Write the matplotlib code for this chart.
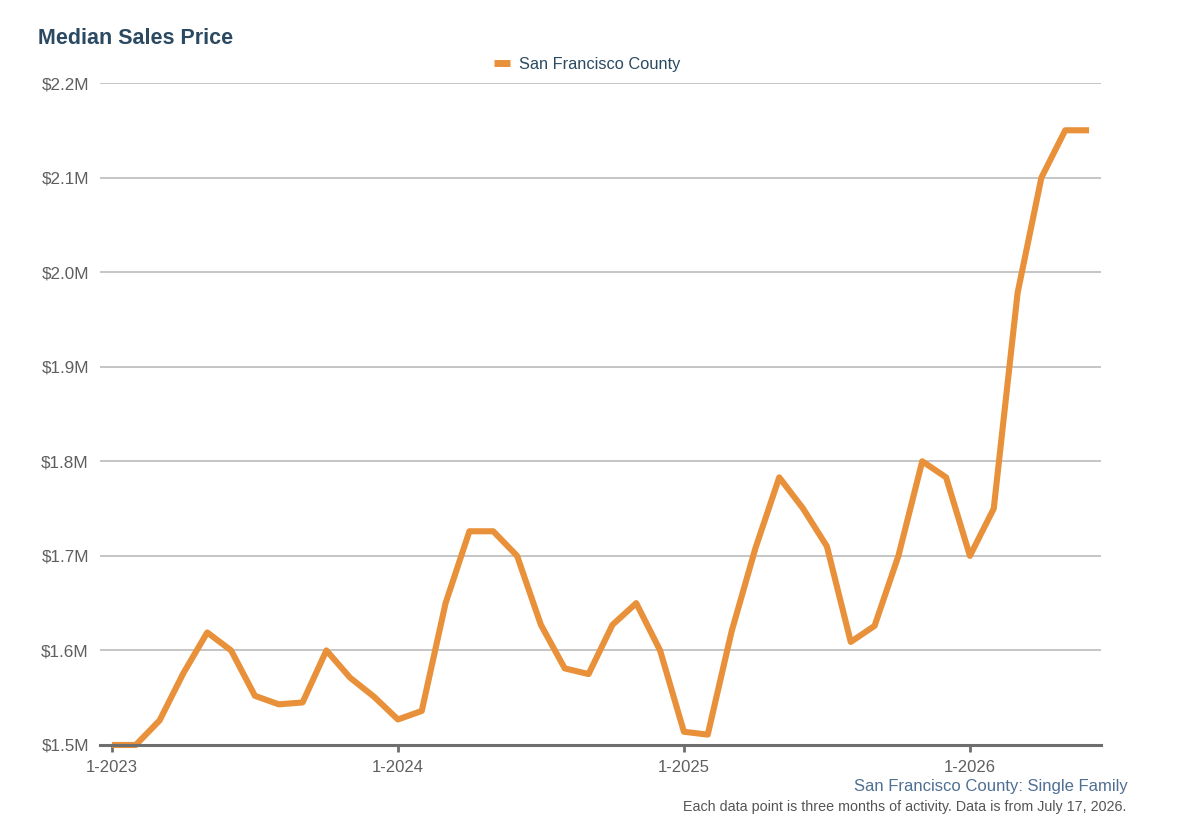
import matplotlib
matplotlib.use("Agg")
import matplotlib.pyplot as plt
from matplotlib.ticker import FuncFormatter

plt.rcParams['font.family'] = ['Liberation Sans', 'DejaVu Sans']

# Monthly data, Jan 2023 .. Jun 2026 (values in $M)
months = list(range(42))
prices = [1.500, 1.500, 1.526, 1.576, 1.619, 1.600, 1.552, 1.543, 1.545, 1.600,
          1.571, 1.551, 1.527, 1.536, 1.650, 1.726, 1.726, 1.700, 1.627, 1.581,
          1.575, 1.627, 1.650, 1.600, 1.514, 1.511, 1.620, 1.708, 1.783, 1.750,
          1.710, 1.609, 1.626, 1.700, 1.800, 1.783, 1.700, 1.750, 1.978, 2.100,
          2.150, 2.150]
year_ticks = [0, 12, 24, 36]
year_labels = ["1-2023", "1-2024", "1-2025", "1-2026"]
y_ticks = [1.5, 1.6, 1.7, 1.8, 1.9, 2.0, 2.1, 2.2]
series_name = "San Francisco County"

W, H = 1188, 824
fig = plt.figure(figsize=(W/100, H/100), dpi=100)
ax = fig.add_axes([100/W, 1-745/H, (1101-100)/W, (745-83)/H])

line_color = "#e8913a"
ax.plot(months, prices, color=line_color, lw=4.4, solid_joinstyle='round',
        solid_capstyle='butt', clip_on=False, zorder=3)

ax.set_xlim(-0.5, 41.5)
ax.set_ylim(1.5, 2.2)
ax.set_yticks(y_ticks)
ax.yaxis.set_major_formatter(FuncFormatter(lambda v, p: f"${v:.1f}M"))
ax.set_xticks(year_ticks)
ax.set_xticklabels(year_labels)

ax.grid(axis='y', color='#b5b5b5', lw=1.1)
ax.set_axisbelow(True)
for s in ['top', 'right', 'left']:
    ax.spines[s].set_visible(False)
ax.spines['bottom'].set_color('#6e6e6e')
ax.spines['bottom'].set_linewidth(2.2)
ax.spines['bottom'].set_zorder(4)
ax.tick_params(axis='y', length=0, pad=8, labelsize=12.3, labelcolor='#5f5f5f')
ax.tick_params(axis='x', length=5, width=2, color='#6e6e6e', pad=6, labelsize=12, labelcolor='#5f5f5f')

# Title
fig.text(38/W, 1-38/H, "Median Sales Price", fontsize=15.5, fontweight='bold',
         color='#2b4a62', ha='left', va='center')

# Legend
leg = ax.legend([series_name], loc='lower center', bbox_to_anchor=(0.4865, 1.0),
                frameon=False, fontsize=11.8, handlelength=1.0, handletextpad=0.5,
                borderaxespad=0.3)
leg.get_lines()[0].set_linewidth(5)
for t in leg.get_texts():
    t.set_color('#2b4a62')

# Footer
fig.text(1128/W, 1-786/H, "San Francisco County: Single Family", fontsize=12,
         color='#4f6f93', ha='right', va='center')
fig.text(1126/W, 1-807/H, "Each data point is three months of activity. Data is from July 17, 2026.",
         fontsize=10.3, color='#555555', ha='right', va='center')

fig.savefig("out.png", dpi=100)
